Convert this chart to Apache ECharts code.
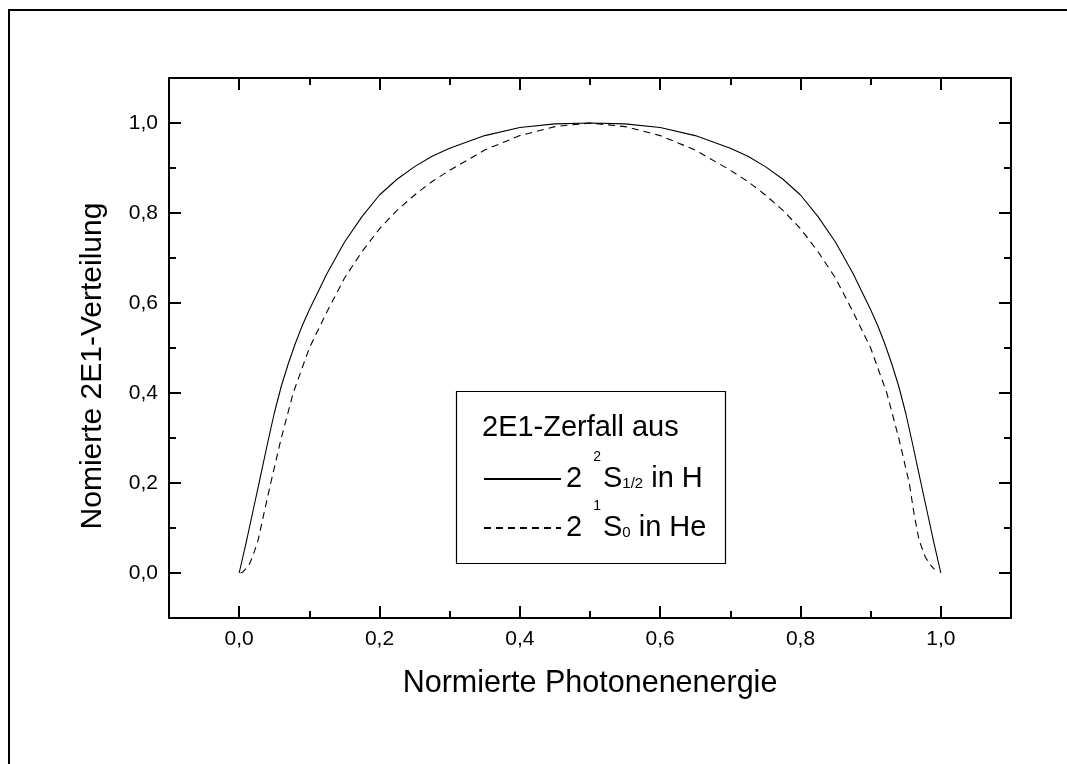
<!DOCTYPE html>
<html lang="de" style="width: 100%; height: 100%">
<head>
  <meta charset="utf-8">
  <style>
    html, body { margin: 0; padding: 0; background: #fff; }
  </style>
</head>
<body style="width: 1067px; height: 764px">
  <div id="container" style="width: 1067px; height: 764px"></div>

  <script type="text/javascript" src="https://cdn.jsdelivr.net/npm/echarts@6.0.0/dist/echarts.min.js"></script>

  <script type="text/javascript">

var FONT = "'Liberation Sans', Arial, Helvetica, sans-serif";

// 2 2S1/2 in H (solid)
var hX = [0, 0.01, 0.02, 0.03, 0.04, 0.05, 0.06, 0.07, 0.08, 0.09, 0.1, 0.125, 0.15, 0.175, 0.2, 0.225, 0.25, 0.275, 0.3, 0.35, 0.4, 0.45, 0.5,
          0.55, 0.6, 0.65, 0.7, 0.725, 0.75, 0.775, 0.8, 0.825, 0.85, 0.875, 0.9, 0.91, 0.92, 0.93, 0.94, 0.95, 0.96, 0.97, 0.98, 0.99, 1.0];
var hY = [0, 0.068, 0.14, 0.212, 0.285, 0.355, 0.415, 0.465, 0.51, 0.55, 0.585, 0.665, 0.735, 0.792, 0.84, 0.875, 0.903, 0.926, 0.944, 0.972, 0.99, 0.998, 1.0,
          0.998, 0.99, 0.972, 0.944, 0.926, 0.903, 0.875, 0.84, 0.792, 0.735, 0.665, 0.585, 0.55, 0.51, 0.465, 0.415, 0.355, 0.285, 0.212, 0.14, 0.068, 0];

// 2 1S0 in He (dashed)
var heX = [0.002, 0.005, 0.01, 0.015, 0.02, 0.027, 0.035, 0.045, 0.06, 0.077, 0.1, 0.125, 0.15, 0.175, 0.2, 0.225, 0.25, 0.275, 0.3, 0.35, 0.4, 0.45, 0.5,
           0.55, 0.6, 0.65, 0.7, 0.725, 0.75, 0.775, 0.8, 0.825, 0.85, 0.875, 0.9, 0.923, 0.94, 0.955, 0.962, 0.969, 0.978, 0.985, 0.991];
var heY = [0, 0.002, 0.01, 0.021, 0.04, 0.073, 0.13, 0.2, 0.3, 0.4, 0.5, 0.58, 0.655, 0.714, 0.765, 0.806, 0.84, 0.87, 0.895, 0.94, 0.972, 0.992, 1.0,
           0.992, 0.972, 0.94, 0.895, 0.87, 0.84, 0.806, 0.765, 0.714, 0.655, 0.58, 0.5, 0.4, 0.3, 0.2, 0.13, 0.073, 0.035, 0.018, 0.008];

var majorTicks = [0, 0.2, 0.4, 0.6, 0.8, 1.0];
var axisMin = -0.1, axisMax = 1.1;

var xTitle = 'Normierte Photonenenergie';
var yTitle = 'Nomierte 2E1-Verteilung';
var legendTitle = '2E1-Zerfall aus';

function pairs(xs, ys) {
  var out = [];
  for (var i = 0; i < xs.length; i++) out.push([xs[i], ys[i]]);
  return out;
}
function fmt(v) {
  return (Math.round(v * 10) / 10).toFixed(1).replace('.', ',');
}

var dom = document.getElementById('container');
var myChart = echarts.init(dom, null, { renderer: 'canvas' });

var gridPos = { left: 169, right: 56, top: 78, bottom: 146 };
var black = '#000';

// minor-tick axes (grid 0) carry the frame lines
function minorAxis(pos, grid) {
  return {
    type: 'value', gridIndex: grid, position: pos, min: axisMin, max: axisMax, interval: 0.1,
    axisLine: { show: true, onZero: false, lineStyle: { color: black, width: 2 } },
    axisTick: { show: true, inside: true, length: 7, lineStyle: { color: black, width: 2 } },
    axisLabel: { show: false },
    splitLine: { show: false }
  };
}
// major-tick axes (grid 1)
function majorAxis(pos, grid, labels) {
  return {
    type: 'value', gridIndex: grid, position: pos, min: axisMin, max: axisMax,
    axisLine: { show: false, onZero: false },
    axisTick: { show: true, inside: true, length: 12, customValues: majorTicks, lineStyle: { color: black, width: 2 } },
    axisLabel: { show: labels, customValues: majorTicks, formatter: fmt, margin: 11, fontSize: 21, color: black, fontFamily: FONT },
    splitLine: { show: false }
  };
}

var xMain = majorAxis('bottom', 1, true);
xMain.name = xTitle;
xMain.nameLocation = 'middle';
xMain.nameGap = 50;
xMain.nameTextStyle = { fontSize: 30.5, color: black, fontFamily: FONT };

var yMain = majorAxis('left', 1, true);
yMain.name = yTitle;
yMain.nameLocation = 'middle';
yMain.nameRotate = 90;
yMain.nameGap = 61;
yMain.nameTextStyle = { fontSize: 30, color: black, fontFamily: FONT, padding: [0, 36, 0, 0] };

var legendText = {
  color: black, fontSize: 29, fontFamily: FONT,
  rich: {
    sup: { fontSize: 14, color: black, fontFamily: FONT, padding: [0, 2, 44, 3] },
    sub: { fontSize: 15, color: black, fontFamily: FONT, padding: [10, 0, 0, 0] }
  }
};

var option = {
  animation: false,
  backgroundColor: '#fff',
  grid: [
    Object.assign({}, gridPos),
    Object.assign({}, gridPos)
  ],
  xAxis: [
    minorAxis('bottom', 0),
    minorAxis('top', 0),
    xMain,
    majorAxis('top', 1, false)
  ],
  yAxis: [
    minorAxis('left', 0),
    minorAxis('right', 0),
    yMain,
    majorAxis('right', 1, false)
  ],
  title: {
    text: legendTitle, left: 482, top: 413, padding: 0,
    textStyle: { fontSize: 29, fontWeight: 'normal', color: black, fontFamily: FONT }
  },
  legend: [
    {
      data: ['H'], orient: 'vertical', left: 483, top: 450, padding: 0,
      itemWidth: 77, itemHeight: 14, selectedMode: false,
      itemStyle: { opacity: 0 },
      formatter: function () { return '2 {sup|2}S{sub|1/2} in H'; },
      textStyle: legendText
    },
    {
      data: ['He'], orient: 'vertical', left: 483, top: 499, padding: 0,
      itemWidth: 77, itemHeight: 14, selectedMode: false,
      itemStyle: { opacity: 0 },
      formatter: function () { return '2 {sup|1}S{sub|0} in He'; },
      textStyle: legendText
    }
  ],
  graphic: [
    { type: 'line', shape: { x1: 9, y1: 10, x2: 1067, y2: 10 }, style: { stroke: black, lineWidth: 2 } },
    { type: 'line', shape: { x1: 9, y1: 9, x2: 9, y2: 764 }, style: { stroke: black, lineWidth: 2 } },
    { type: 'rect', shape: { x: 456.5, y: 391.5, width: 269, height: 172 }, style: { fill: 'none', stroke: black, lineWidth: 1.2 }, z: 10 }
  ],
  series: [
    {
      name: 'H', type: 'line', xAxisIndex: 0, yAxisIndex: 0,
      data: pairs(hX, hY), symbol: 'none', showSymbol: false,
      smooth: false,
      lineStyle: { color: black, width: 1.1, type: 'solid', join: 'round' },
      itemStyle: { color: black }
    },
    {
      name: 'He', type: 'line', xAxisIndex: 0, yAxisIndex: 0,
      data: pairs(heX, heY), symbol: 'none', showSymbol: false,
      smooth: false,
      lineStyle: { color: black, width: 1.1, type: [7, 5], join: 'round' },
      itemStyle: { color: black }
    }
  ]
};

myChart.setOption(option);

  </script>
</body>
</html>
